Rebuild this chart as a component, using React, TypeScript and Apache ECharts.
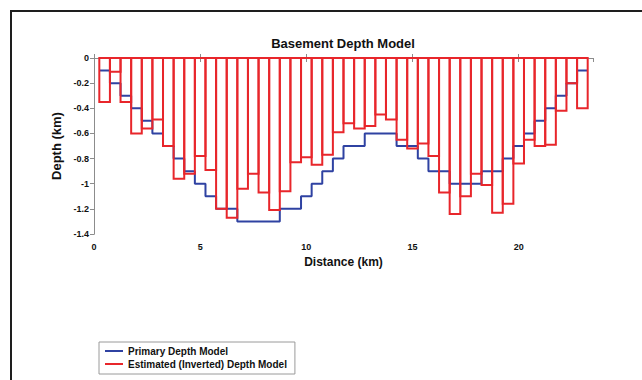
import React, { useEffect, useRef } from "react";
import * as echarts from "echarts";

// Station positions along the profile (km), one per 0.5 km cell
const distanceKm = [
  0.5, 1, 1.5, 2, 2.5, 3, 3.5, 4, 4.5, 5, 5.5, 6, 6.5, 7, 7.5, 8,
  8.5, 9, 9.5, 10, 10.5, 11, 11.5, 12, 12.5, 13, 13.5, 14, 14.5, 15, 15.5, 16,
  16.5, 17, 17.5, 18, 18.5, 19, 19.5, 20, 20.5, 21, 21.5, 22, 22.5, 23,
];

// Primary (true) basement depth per cell (km)
const primaryDepth = [
  -0.1, -0.2, -0.3, -0.4, -0.5, -0.6, -0.7, -0.8, -0.9, -1.0, -1.1, -1.2, -1.2, -1.3, -1.3, -1.3,
  -1.3, -1.2, -1.2, -1.1, -1.0, -0.9, -0.8, -0.7, -0.7, -0.6, -0.6, -0.6, -0.7, -0.7, -0.8, -0.9,
  -0.9, -1.0, -1.0, -1.0, -0.9, -0.9, -0.8, -0.7, -0.6, -0.5, -0.4, -0.3, -0.2, -0.1,
];

// Estimated (inverted) basement depth per cell (km)
const estimatedDepth = [
  -0.35, -0.11, -0.35, -0.6, -0.56, -0.49, -0.7, -0.96, -0.92, -0.78, -0.89, -1.2, -1.27, -1.04, -0.92, -1.07,
  -1.21, -1.06, -0.83, -0.79, -0.85, -0.77, -0.59, -0.52, -0.56, -0.54, -0.45, -0.49, -0.65, -0.72, -0.68, -0.78,
  -1.07, -1.24, -1.1, -0.92, -1.01, -1.23, -1.16, -0.84, -0.65, -0.7, -0.69, -0.42, -0.2, -0.4,
];

const cellWidthKm = 0.5;
const xRange = [0, 23.5];
const yRange = [-1.4, 0];

const FONT = "'Liberation Sans', Arial, Helvetica, sans-serif";
const TEXT = "#111";
const AXIS = "#8c8c8c";
const BLUE = "#2f42a2";
const RED = "#e8262b";

export default function App() {
  const ref = useRef<HTMLDivElement>(null);

  useEffect(() => {
    if (!ref.current) return;
    const chart = echarts.init(ref.current, null, { renderer: "svg" });
    const half = cellWidthKm / 2;

    // step outline of the primary model: each cell spans its full width
    const primarySteps: number[][] = [];
    distanceKm.forEach((x, i) => {
      primarySteps.push([x - half, primaryDepth[i]], [x + half, primaryDepth[i]]);
    });

    const tickLabel = {
      fontFamily: FONT,
      fontSize: 9,
      fontWeight: "bold" as const,
      color: TEXT,
    };
    const axisName = {
      fontFamily: FONT,
      fontSize: 12,
      fontWeight: "bold" as const,
      color: TEXT,
    };
    const line = { show: true, lineStyle: { color: AXIS, width: 1 } };
    const tick = (inside: boolean) => ({
      show: true,
      inside,
      length: 4,
      lineStyle: { color: AXIS, width: 1 },
    });

    chart.setOption({
      animation: false,
      backgroundColor: "#fff",
      title: {
        text: "Basement Depth Model",
        left: 343,
        top: 37,
        padding: 0,
        textAlign: "center",
        textStyle: { fontFamily: FONT, fontSize: 13, fontWeight: "bold", color: TEXT },
      },
      graphic: [
        {
          type: "rect",
          silent: true,
          shape: { x: 11, y: 11, width: 700, height: 500 },
          style: { fill: "none", stroke: "#1e1e1e", lineWidth: 2 },
        },
      ],
      legend: {
        left: 99,
        top: 342,
        orient: "vertical",
        itemGap: 3,
        itemWidth: 18,
        itemHeight: 2,
        icon: "rect",
        padding: [4, 8, 5, 6],
        borderColor: "#9a9a9a",
        borderWidth: 1,
        backgroundColor: "#fff",
        textStyle: { fontFamily: FONT, fontSize: 10, fontWeight: "bold", color: TEXT },
        data: ["Primary Depth Model", "Estimated (Inverted) Depth Model"],
      },
      grid: { left: 94, top: 58, width: 499, height: 176 },
      xAxis: [
        {
          type: "value",
          min: xRange[0],
          max: xRange[1],
          interval: 5,
          position: "bottom",
          axisLine: line,
          axisTick: tick(true),
          splitLine: { show: false },
          axisLabel: { ...tickLabel, margin: 8, showMaxLabel: false },
          name: "Distance (km)",
          nameLocation: "middle",
          nameGap: 22,
          nameTextStyle: axisName,
        },
        {
          type: "value",
          min: xRange[0],
          max: xRange[1],
          interval: 5,
          position: "top",
          axisLine: line,
          axisTick: tick(true),
          splitLine: { show: false },
          axisLabel: { show: false },
        },
      ],
      yAxis: [
        {
          type: "value",
          min: yRange[0],
          max: yRange[1],
          interval: 0.2,
          position: "left",
          axisLine: line,
          axisTick: tick(false),
          splitLine: { show: false },
          axisLabel: {
            ...tickLabel,
            margin: 5,
            formatter: (v: number) => String(+v.toFixed(1)),
          },
          name: "Depth (km)",
          nameLocation: "middle",
          nameGap: 26,
          nameTextStyle: { ...axisName, fontSize: 13 },
        },
        {
          type: "value",
          min: yRange[0],
          max: yRange[1],
          interval: 0.2,
          position: "right",
          axisLine: line,
          axisTick: tick(true),
          splitLine: { show: false },
          axisLabel: { show: false },
        },
      ],
      series: [
        {
          name: "Primary Depth Model",
          type: "line",
          xAxisIndex: 0,
          yAxisIndex: 0,
          data: primarySteps,
          symbol: "none",
          color: BLUE,
          lineStyle: { color: BLUE, width: 2 },
          z: 2,
        },
        {
          name: "Estimated (Inverted) Depth Model",
          type: "custom",
          xAxisIndex: 0,
          yAxisIndex: 0,
          data: distanceKm.map((x, i) => [x, estimatedDepth[i]]),
          encode: { x: 0, y: 1 },
          itemStyle: { color: RED },
          z: 3,
          renderItem: (_params: any, api: any) => {
            const x = api.value(0);
            const d = api.value(1);
            const a = api.coord([x - half, 0]);
            const b = api.coord([x + half, d]);
            return {
              type: "rect",
              shape: { x: a[0], y: a[1], width: b[0] - a[0], height: b[1] - a[1] },
              style: { fill: "none", stroke: RED, lineWidth: 2 },
            };
          },
        },
      ],
    });

    return () => chart.dispose();
  }, []);

  return (
    <div
      ref={ref}
      style={{ position: "fixed", left: 0, top: 0, width: 642, height: 380 }}
    />
  );
}
